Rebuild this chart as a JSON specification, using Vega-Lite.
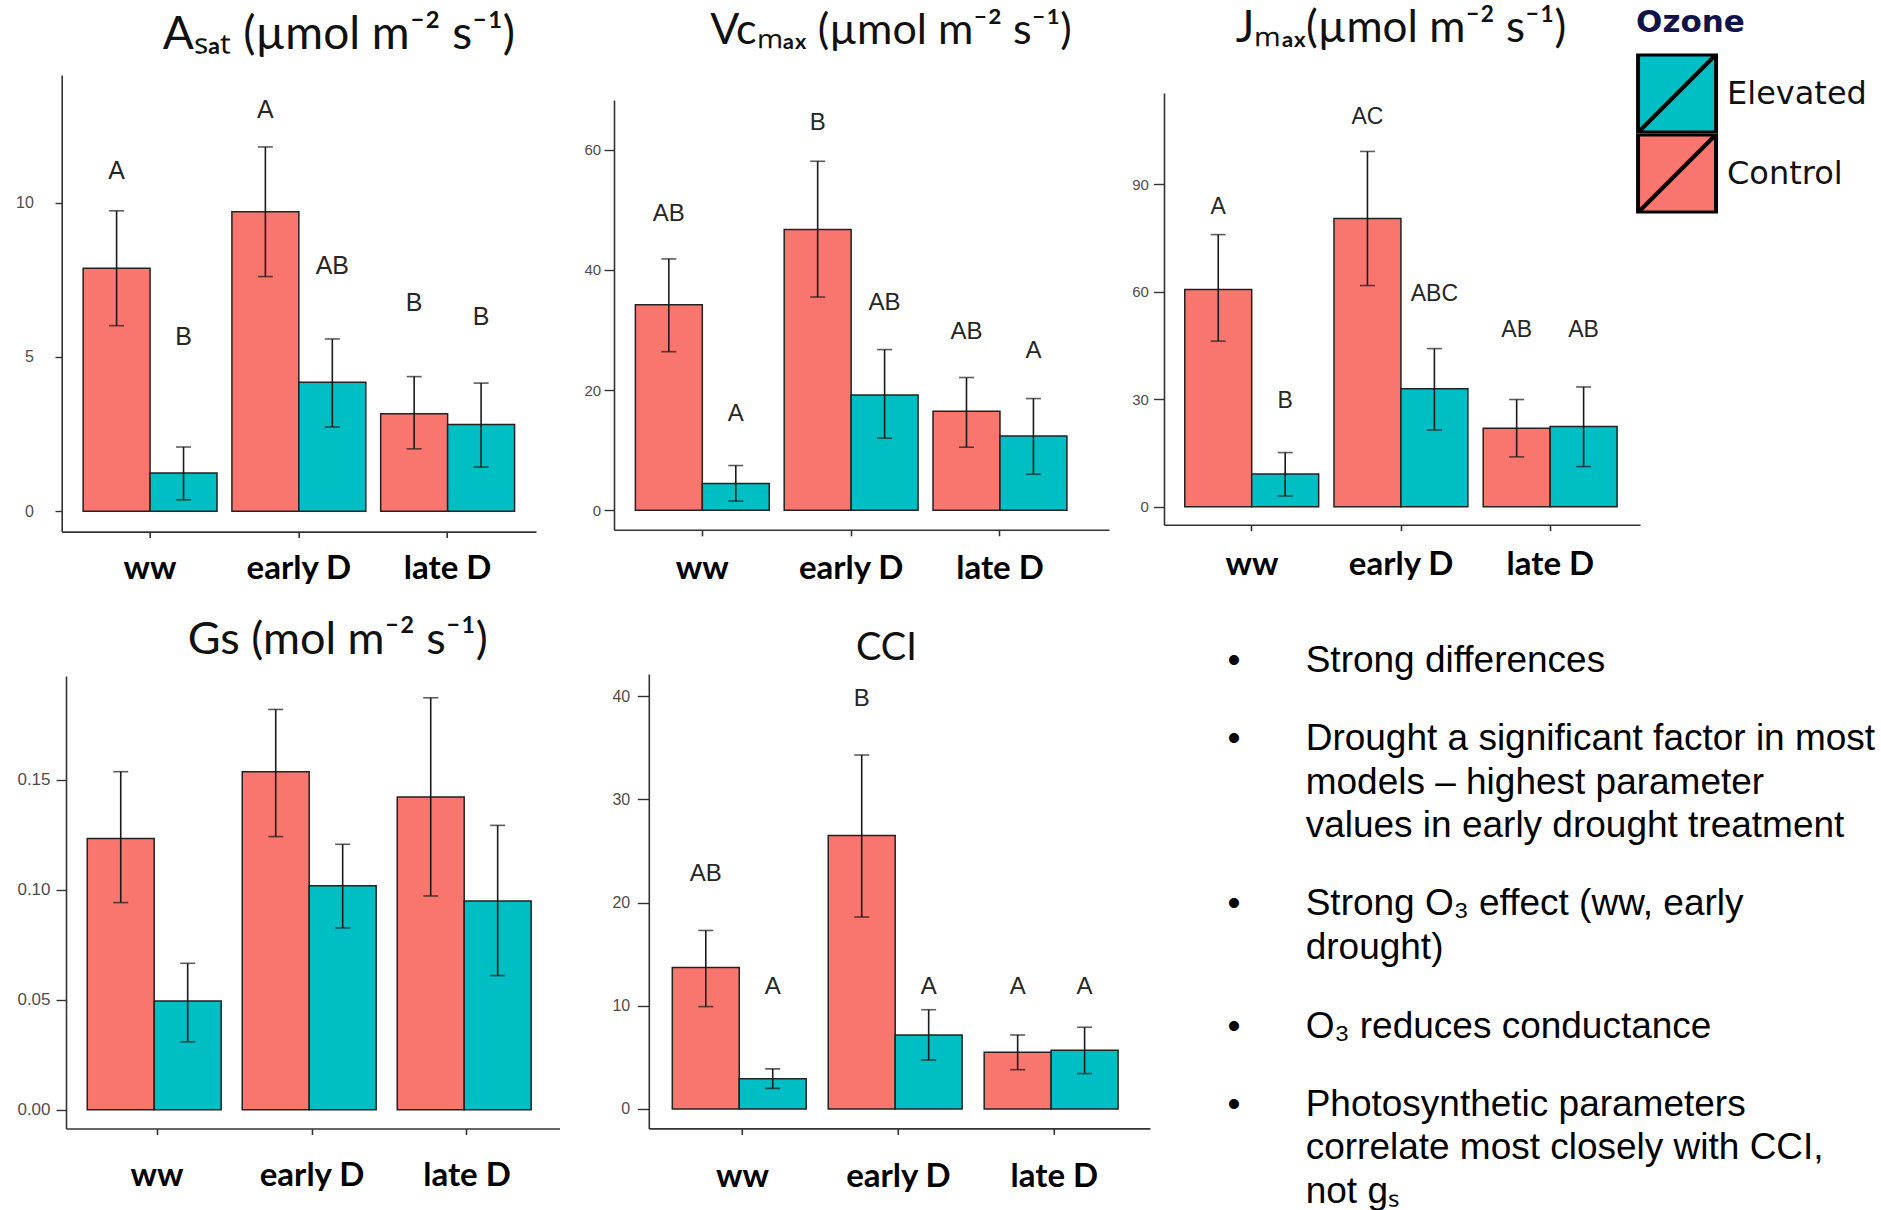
{
  "$schema": "https://vega.github.io/schema/vega-lite/v6.json",
  "background": "white",
  "padding": {"left": 13.7, "top": 0, "right": 0, "bottom": 0},
  "datasets": {
    "bars": [
      {"panel": "Asat", "group": "ww", "ozone": "Control", "mean": 7.87, "lo": 6.01, "hi": 9.73, "letter": "A", "label_y": 11.03},
      {"panel": "Asat", "group": "ww", "ozone": "Elevated", "mean": 1.24, "lo": 0.37, "hi": 2.08, "letter": "B", "label_y": 5.64},
      {"panel": "Asat", "group": "early D", "ozone": "Control", "mean": 9.70, "lo": 7.60, "hi": 11.8, "letter": "A", "label_y": 13.0},
      {"panel": "Asat", "group": "early D", "ozone": "Elevated", "mean": 4.18, "lo": 2.73, "hi": 5.58, "letter": "AB", "label_y": 7.93},
      {"panel": "Asat", "group": "late D", "ozone": "Control", "mean": 3.16, "lo": 2.02, "hi": 4.36, "letter": "B", "label_y": 6.75},
      {"panel": "Asat", "group": "late D", "ozone": "Elevated", "mean": 2.81, "lo": 1.43, "hi": 4.15, "letter": "B", "label_y": 6.28},
      {"panel": "Vcmax", "group": "ww", "ozone": "Control", "mean": 34.2, "lo": 26.4, "hi": 41.85, "letter": "AB", "label_y": 49.4},
      {"panel": "Vcmax", "group": "ww", "ozone": "Elevated", "mean": 4.46, "lo": 1.53, "hi": 7.45, "letter": "A", "label_y": 16.05},
      {"panel": "Vcmax", "group": "early D", "ozone": "Control", "mean": 46.75, "lo": 35.5, "hi": 58.1, "letter": "B", "label_y": 64.5},
      {"panel": "Vcmax", "group": "early D", "ozone": "Elevated", "mean": 19.2, "lo": 12.0, "hi": 26.75, "letter": "AB", "label_y": 34.5},
      {"panel": "Vcmax", "group": "late D", "ozone": "Control", "mean": 16.5, "lo": 10.5, "hi": 22.1, "letter": "AB", "label_y": 29.75},
      {"panel": "Vcmax", "group": "late D", "ozone": "Elevated", "mean": 12.35, "lo": 6.0, "hi": 18.6, "letter": "A", "label_y": 26.55},
      {"panel": "Jmax", "group": "ww", "ozone": "Control", "mean": 60.6, "lo": 46.2, "hi": 75.9, "letter": "A", "label_y": 83.6},
      {"panel": "Jmax", "group": "ww", "ozone": "Elevated", "mean": 9.1, "lo": 3.0, "hi": 15.1, "letter": "B", "label_y": 29.4},
      {"panel": "Jmax", "group": "early D", "ozone": "Control", "mean": 80.4, "lo": 61.7, "hi": 99.1, "letter": "AC", "label_y": 108.7},
      {"panel": "Jmax", "group": "early D", "ozone": "Elevated", "mean": 32.9, "lo": 21.4, "hi": 44.1, "letter": "ABC", "label_y": 59.3},
      {"panel": "Jmax", "group": "late D", "ozone": "Control", "mean": 21.9, "lo": 13.9, "hi": 29.9, "letter": "AB", "label_y": 49.2},
      {"panel": "Jmax", "group": "late D", "ozone": "Elevated", "mean": 22.4, "lo": 11.2, "hi": 33.4, "letter": "AB", "label_y": 49.2},
      {"panel": "Gs", "group": "ww", "ozone": "Control", "mean": 0.1233, "lo": 0.0942, "hi": 0.1537},
      {"panel": "Gs", "group": "ww", "ozone": "Elevated", "mean": 0.0495, "lo": 0.0309, "hi": 0.0666},
      {"panel": "Gs", "group": "early D", "ozone": "Control", "mean": 0.1537, "lo": 0.1242, "hi": 0.182},
      {"panel": "Gs", "group": "early D", "ozone": "Elevated", "mean": 0.1019, "lo": 0.0827, "hi": 0.1207},
      {"panel": "Gs", "group": "late D", "ozone": "Control", "mean": 0.1422, "lo": 0.0972, "hi": 0.1873},
      {"panel": "Gs", "group": "late D", "ozone": "Elevated", "mean": 0.0949, "lo": 0.061, "hi": 0.1293},
      {"panel": "CCI", "group": "ww", "ozone": "Control", "mean": 13.7, "lo": 9.92, "hi": 17.3, "letter": "AB", "label_y": 22.75},
      {"panel": "CCI", "group": "ww", "ozone": "Elevated", "mean": 2.94, "lo": 2.0, "hi": 3.89, "letter": "A", "label_y": 11.8},
      {"panel": "CCI", "group": "early D", "ozone": "Control", "mean": 26.5, "lo": 18.6, "hi": 34.3, "letter": "B", "label_y": 39.7},
      {"panel": "CCI", "group": "early D", "ozone": "Elevated", "mean": 7.17, "lo": 4.75, "hi": 9.62, "letter": "A", "label_y": 11.8},
      {"panel": "CCI", "group": "late D", "ozone": "Control", "mean": 5.5, "lo": 3.81, "hi": 7.17, "letter": "A", "label_y": 11.8},
      {"panel": "CCI", "group": "late D", "ozone": "Elevated", "mean": 5.7, "lo": 3.43, "hi": 7.92, "letter": "A", "label_y": 11.8}
    ],
    "notes": [
      {"item": 1, "line": 1, "text": "Strong differences"},
      {"item": 2, "line": 1, "text": "Drought a significant factor in most"},
      {"item": 2, "line": 2, "text": "models – highest parameter"},
      {"item": 2, "line": 3, "text": "values in early drought treatment"},
      {"item": 3, "line": 1, "text": "Strong O₃ effect (ww, early"},
      {"item": 3, "line": 2, "text": "drought)"},
      {"item": 4, "line": 1, "text": "O₃ reduces conductance"},
      {"item": 5, "line": 1, "text": "Photosynthetic parameters"},
      {"item": 5, "line": 2, "text": "correlate most closely with CCI,"},
      {"item": 5, "line": 3, "text": "not gₛ"}
    ]
  },
  "config": {
    "view": {"stroke": null},
    "font": "Liberation Sans",
    "title": {"font": "Lato", "fontWeight": "normal", "color": "#111111", "baseline": "alphabetic", "anchor": "middle"},
    "axisX": {"domainColor": "#333333", "domainWidth": 1.6, "tickColor": "#333333", "tickWidth": 1.6, "tickSize": 6, "labelFont": "Lato", "labelFontWeight": "bold", "labelFontSize": 33, "labelColor": "#000000", "labelAngle": 0, "labelBaseline": "alphabetic", "grid": false},
    "axisY": {"domainColor": "#333333", "domainWidth": 1.6, "tickColor": "#333333", "tickWidth": 1.4, "labelFont": "Liberation Sans", "labelColor": "#4d4d4d", "grid": false},
    "legend": {
      "orient": "none", "legendX": 1622.35, "legendY": 8,
      "symbolType": "M-1,-1H1V1H-1Z M-1,1L1,-1", "symbolSize": 6084,
      "symbolStrokeColor": "#000000", "symbolStrokeWidth": 4, "symbolOpacity": 1,
      "labelFont": "DejaVu Sans", "labelFontSize": 32, "labelColor": "#111111", "labelOffset": 9, "labelLimit": 300,
      "titleFont": "DejaVu Sans", "titleFontSize": 31, "titleFontWeight": "bold", "titleColor": "#12124a", "titlePadding": 14.5,
      "clipHeight": 80, "rowPadding": 0, "padding": 0
    }
  },
  "spacing": 14,
  "vconcat": [
    {
      "spacing": 0,
      "hconcat": [
        {"width": 1, "height": 1, "data": {"values": []}, "mark": "text", "encoding": {}},
        {
          "spacing": 47.3,
          "hconcat": [
            {
              "bounds": "flush", "spacing": 0,
              "vconcat": [
                {"width": 474.3, "height": 74.6, "data": {"values": []}, "mark": "text", "encoding": {}},
                {
                  "width": 474.3, "height": 456.6,
                  "title": {"text": "Aₛₐₜ (µmol m⁻² s⁻¹)", "fontSize": 46, "dx": 40, "offset": 15.7},
                  "data": {"name": "bars"},
                  "transform": [{"filter": "datum.panel === 'Asat'"}],
                  "encoding": {
                    "x": {"field": "group", "type": "nominal", "sort": ["ww", "early D", "late D"], "title": null,
                          "scale": {"paddingInner": 0.1, "paddingOuter": 0.144, "align": 0.5}, "axis": {"labelPadding": 41}},
                    "xOffset": {"field": "ozone", "type": "nominal", "scale": {"domain": ["Control", "Elevated"], "paddingInner": 0, "paddingOuter": 0}}
                  },
                  "layer": [
                    {"mark": {"type": "bar", "stroke": "#222222", "strokeWidth": 1.5},
                     "encoding": {
                       "y": {"field": "mean", "type": "quantitative", "title": null, "scale": {"domain": [-0.66, 14.13], "nice": false, "zero": false},
                             "axis": {"values": [0, 5, 10], "tickSize": 6.7, "labelPadding": 21.7, "labelFontSize": 16}},
                       "y2": {"datum": 0},
                       "color": {"field": "ozone", "type": "nominal", "title": "Ozone", "scale": {"domain": ["Elevated", "Control"], "range": ["#00BFC4", "#F8766D"]}}
                     }},
                    {"mark": {"type": "rule", "color": "#1a1a1a", "strokeWidth": 1.6},
                     "encoding": {"y": {"field": "lo", "type": "quantitative", "title": null}, "y2": {"field": "hi"}}},
                    {"mark": {"type": "tick", "color": "#1a1a1a", "size": 15, "thickness": 1.6},
                     "encoding": {"y": {"field": "lo", "type": "quantitative", "title": null}}},
                    {"mark": {"type": "tick", "color": "#1a1a1a", "size": 15, "thickness": 1.6},
                     "encoding": {"y": {"field": "hi", "type": "quantitative", "title": null}}},
                    {"mark": {"type": "text", "fontSize": 25, "font": "Liberation Sans", "color": "#262626", "baseline": "middle"},
                     "encoding": {"y": {"field": "label_y", "type": "quantitative", "title": null}, "text": {"field": "letter"}}}
                  ]
                }
              ]
            },
            {
              "spacing": 22,
              "hconcat": [
                {
                  "bounds": "flush", "spacing": 0,
                  "vconcat": [
                    {"width": 495, "height": 99.5, "data": {"values": []}, "mark": "text", "encoding": {}},
                    {
                      "width": 495, "height": 429.8,
                      "title": {"text": "Vcₘₐₓ (µmol m⁻² s⁻¹)", "fontSize": 43, "dx": 29.5, "offset": 46.9},
                      "data": {"name": "bars"},
                      "transform": [{"filter": "datum.panel === 'Vcmax'"}],
                      "encoding": {
                        "x": {"field": "group", "type": "nominal", "sort": ["ww", "early D", "late D"], "title": null,
                              "scale": {"paddingInner": 0.1, "paddingOuter": 0.213, "align": 0.337}, "axis": {"labelPadding": 42.6}},
                        "xOffset": {"field": "ozone", "type": "nominal", "scale": {"domain": ["Control", "Elevated"], "paddingInner": 0, "paddingOuter": 0}}
                      },
                      "layer": [
                        {"mark": {"type": "bar", "stroke": "#222222", "strokeWidth": 1.5},
                         "encoding": {
                           "y": {"field": "mean", "type": "quantitative", "title": null, "scale": {"domain": [-3.25, 68.3], "nice": false, "zero": false},
                                 "axis": {"values": [0, 20, 40, 60], "tickSize": 10, "labelPadding": 3.3, "labelFontSize": 15}},
                           "y2": {"datum": 0},
                           "color": {"field": "ozone", "type": "nominal", "title": "Ozone", "scale": {"domain": ["Elevated", "Control"], "range": ["#00BFC4", "#F8766D"]}}
                         }},
                        {"mark": {"type": "rule", "color": "#1a1a1a", "strokeWidth": 1.6},
                         "encoding": {"y": {"field": "lo", "type": "quantitative", "title": null}, "y2": {"field": "hi"}}},
                        {"mark": {"type": "tick", "color": "#1a1a1a", "size": 15, "thickness": 1.6},
                         "encoding": {"y": {"field": "lo", "type": "quantitative", "title": null}}},
                        {"mark": {"type": "tick", "color": "#1a1a1a", "size": 15, "thickness": 1.6},
                         "encoding": {"y": {"field": "hi", "type": "quantitative", "title": null}}},
                        {"mark": {"type": "text", "fontSize": 24, "font": "Liberation Sans", "color": "#262626", "baseline": "middle"},
                         "encoding": {"y": {"field": "label_y", "type": "quantitative", "title": null}, "text": {"field": "letter"}}}
                      ]
                    }
                  ]
                },
                {
                  "bounds": "flush", "spacing": 0,
                  "vconcat": [
                    {"width": 476, "height": 92.6, "data": {"values": []}, "mark": "text", "encoding": {}},
                    {
                      "width": 476, "height": 431.7,
                      "title": {"text": "Jₘₐₓ(µmol m⁻² s⁻¹)", "fontSize": 44, "dx": -1, "offset": 42},
                      "data": {"name": "bars"},
                      "transform": [{"filter": "datum.panel === 'Jmax'"}],
                      "encoding": {
                        "x": {"field": "group", "type": "nominal", "sort": ["ww", "early D", "late D"], "title": null,
                              "scale": {"paddingInner": 0.1, "paddingOuter": 0.145, "align": 0.48}, "axis": {"labelPadding": 43.7}},
                        "xOffset": {"field": "ozone", "type": "nominal", "scale": {"domain": ["Control", "Elevated"], "paddingInner": 0, "paddingOuter": 0}}
                      },
                      "layer": [
                        {"mark": {"type": "bar", "stroke": "#222222", "strokeWidth": 1.5},
                         "encoding": {
                           "y": {"field": "mean", "type": "quantitative", "title": null, "scale": {"domain": [-5.02, 115.4], "nice": false, "zero": false},
                                 "axis": {"values": [0, 30, 60, 90], "tickSize": 10.6, "labelPadding": 5, "labelFontSize": 15}},
                           "y2": {"datum": 0},
                           "color": {"field": "ozone", "type": "nominal", "title": "Ozone", "scale": {"domain": ["Elevated", "Control"], "range": ["#00BFC4", "#F8766D"]}}
                         }},
                        {"mark": {"type": "rule", "color": "#1a1a1a", "strokeWidth": 1.6},
                         "encoding": {"y": {"field": "lo", "type": "quantitative", "title": null}, "y2": {"field": "hi"}}},
                        {"mark": {"type": "tick", "color": "#1a1a1a", "size": 15, "thickness": 1.6},
                         "encoding": {"y": {"field": "lo", "type": "quantitative", "title": null}}},
                        {"mark": {"type": "tick", "color": "#1a1a1a", "size": 15, "thickness": 1.6},
                         "encoding": {"y": {"field": "hi", "type": "quantitative", "title": null}}},
                        {"mark": {"type": "text", "fontSize": 23, "font": "Liberation Sans", "color": "#262626", "baseline": "middle"},
                         "encoding": {"y": {"field": "label_y", "type": "quantitative", "title": null}, "text": {"field": "letter"}}}
                      ]
                    }
                  ]
                }
              ]
            }
          ]
        }
      ]
    },
    {
      "spacing": 1.3,
      "hconcat": [
        {"width": 1, "height": 1, "data": {"values": []}, "mark": "text", "encoding": {}},
        {
          "spacing": 51.8,
          "hconcat": [
            {
              "bounds": "flush", "spacing": 0,
              "vconcat": [
                {"width": 493.5, "height": 75.9, "data": {"values": []}, "mark": "text", "encoding": {}},
                {
                  "width": 493.5, "height": 452.5,
                  "title": {"text": "Gs (mol m⁻² s⁻¹)", "fontSize": 45, "dx": 25, "offset": 12.8},
                  "data": {"name": "bars"},
                  "transform": [{"filter": "datum.panel === 'Gs'"}],
                  "encoding": {
                    "x": {"field": "group", "type": "nominal", "sort": ["ww", "early D", "late D"], "title": null,
                          "scale": {"paddingInner": 0.1, "paddingOuter": 0.142, "align": 0.483}, "axis": {"labelPadding": 51.2}},
                    "xOffset": {"field": "ozone", "type": "nominal", "scale": {"domain": ["Control", "Elevated"], "paddingInner": 0, "paddingOuter": 0}}
                  },
                  "layer": [
                    {"mark": {"type": "bar", "stroke": "#222222", "strokeWidth": 1.5},
                     "encoding": {
                       "y": {"field": "mean", "type": "quantitative", "title": null, "scale": {"domain": [-0.0085, 0.1972], "nice": false, "zero": false},
                             "axis": {"values": [0, 0.05, 0.1, 0.15], "format": ".2f", "tickSize": 10, "labelPadding": 6, "labelFontSize": 17}},
                       "y2": {"datum": 0},
                       "color": {"field": "ozone", "type": "nominal", "title": "Ozone", "scale": {"domain": ["Elevated", "Control"], "range": ["#00BFC4", "#F8766D"]}}
                     }},
                    {"mark": {"type": "rule", "color": "#1a1a1a", "strokeWidth": 1.6},
                     "encoding": {"y": {"field": "lo", "type": "quantitative", "title": null}, "y2": {"field": "hi"}}},
                    {"mark": {"type": "tick", "color": "#1a1a1a", "size": 15, "thickness": 1.6},
                     "encoding": {"y": {"field": "lo", "type": "quantitative", "title": null}}},
                    {"mark": {"type": "tick", "color": "#1a1a1a", "size": 15, "thickness": 1.6},
                     "encoding": {"y": {"field": "hi", "type": "quantitative", "title": null}}}
                  ]
                }
              ]
            },
            {
              "spacing": 76.2,
              "hconcat": [
                {
                  "bounds": "flush", "spacing": 0,
                  "vconcat": [
                    {"width": 501.2, "height": 74, "data": {"values": []}, "mark": "text", "encoding": {}},
                    {
                      "width": 501.2, "height": 454.4,
                      "title": {"text": "CCI", "fontSize": 38, "dx": -13, "offset": 6},
                      "data": {"name": "bars"},
                      "transform": [{"filter": "datum.panel === 'CCI'"}],
                      "encoding": {
                        "x": {"field": "group", "type": "nominal", "sort": ["ww", "early D", "late D"], "title": null,
                              "scale": {"paddingInner": 0.1, "paddingOuter": 0.157, "align": 0.48}, "axis": {"labelPadding": 52.4}},
                        "xOffset": {"field": "ozone", "type": "nominal", "scale": {"domain": ["Control", "Elevated"], "paddingInner": 0, "paddingOuter": 0}}
                      },
                      "layer": [
                        {"mark": {"type": "bar", "stroke": "#222222", "strokeWidth": 1.5},
                         "encoding": {
                           "y": {"field": "mean", "type": "quantitative", "title": null, "scale": {"domain": [-1.88, 42.15], "nice": false, "zero": false},
                                 "axis": {"values": [0, 10, 20, 30, 40], "tickSize": 11.5, "labelPadding": 7.6, "labelFontSize": 16}},
                           "y2": {"datum": 0},
                           "color": {"field": "ozone", "type": "nominal", "title": "Ozone", "scale": {"domain": ["Elevated", "Control"], "range": ["#00BFC4", "#F8766D"]}}
                         }},
                        {"mark": {"type": "rule", "color": "#1a1a1a", "strokeWidth": 1.6},
                         "encoding": {"y": {"field": "lo", "type": "quantitative", "title": null}, "y2": {"field": "hi"}}},
                        {"mark": {"type": "tick", "color": "#1a1a1a", "size": 15, "thickness": 1.6},
                         "encoding": {"y": {"field": "lo", "type": "quantitative", "title": null}}},
                        {"mark": {"type": "tick", "color": "#1a1a1a", "size": 15, "thickness": 1.6},
                         "encoding": {"y": {"field": "hi", "type": "quantitative", "title": null}}},
                        {"mark": {"type": "text", "fontSize": 24, "font": "Liberation Sans", "color": "#262626", "baseline": "middle"},
                         "encoding": {"y": {"field": "label_y", "type": "quantitative", "title": null}, "text": {"field": "letter"}}}
                      ]
                    }
                  ]
                },
                {
                  "bounds": "flush",
                  "spacing": 34.2,
                  "vconcat": [
                    {"width": 71.7, "height": 4.3, "data": {"values": []}, "mark": "text", "encoding": {}},
                    {
                      "width": 71.7, "height": 43.6,
                      "data": {"name": "notes"},
                      "transform": [{"filter": "datum.item === 1"}],
                      "encoding": {"y": {"field": "line", "type": "ordinal", "scale": {"type": "point", "padding": 0.5}, "axis": null}},
                      "layer": [
                        {"mark": {"type": "text", "align": "left", "baseline": "middle", "fontSize": 37, "font": "Liberation Sans", "color": "#000000"},
                         "encoding": {"x": {"datum": "body", "type": "nominal", "scale": {"type": "point", "domain": ["bullet", "body"], "padding": 0}, "axis": null}, "text": {"field": "text"}}},
                        {"transform": [{"filter": "datum.line === 1"}],
                         "mark": {"type": "text", "align": "center", "baseline": "middle", "fontSize": 37, "font": "Liberation Sans", "color": "#000000"},
                         "encoding": {"x": {"datum": "bullet", "type": "nominal"}, "text": {"value": "•"}}}
                      ]
                    },
                    {
                      "width": 71.7, "height": 130.8,
                      "data": {"name": "notes"},
                      "transform": [{"filter": "datum.item === 2"}],
                      "encoding": {"y": {"field": "line", "type": "ordinal", "scale": {"type": "point", "padding": 0.5}, "axis": null}},
                      "layer": [
                        {"mark": {"type": "text", "align": "left", "baseline": "middle", "fontSize": 37, "font": "Liberation Sans", "color": "#000000"},
                         "encoding": {"x": {"datum": "body", "type": "nominal", "scale": {"type": "point", "domain": ["bullet", "body"], "padding": 0}, "axis": null}, "text": {"field": "text"}}},
                        {"transform": [{"filter": "datum.line === 1"}],
                         "mark": {"type": "text", "align": "center", "baseline": "middle", "fontSize": 37, "font": "Liberation Sans", "color": "#000000"},
                         "encoding": {"x": {"datum": "bullet", "type": "nominal"}, "text": {"value": "•"}}}
                      ]
                    },
                    {
                      "width": 71.7, "height": 87.2,
                      "data": {"name": "notes"},
                      "transform": [{"filter": "datum.item === 3"}],
                      "encoding": {"y": {"field": "line", "type": "ordinal", "scale": {"type": "point", "padding": 0.5}, "axis": null}},
                      "layer": [
                        {"mark": {"type": "text", "align": "left", "baseline": "middle", "fontSize": 37, "font": "Liberation Sans", "color": "#000000"},
                         "encoding": {"x": {"datum": "body", "type": "nominal", "scale": {"type": "point", "domain": ["bullet", "body"], "padding": 0}, "axis": null}, "text": {"field": "text"}}},
                        {"transform": [{"filter": "datum.line === 1"}],
                         "mark": {"type": "text", "align": "center", "baseline": "middle", "fontSize": 37, "font": "Liberation Sans", "color": "#000000"},
                         "encoding": {"x": {"datum": "bullet", "type": "nominal"}, "text": {"value": "•"}}}
                      ]
                    },
                    {
                      "width": 71.7, "height": 43.6,
                      "data": {"name": "notes"},
                      "transform": [{"filter": "datum.item === 4"}],
                      "encoding": {"y": {"field": "line", "type": "ordinal", "scale": {"type": "point", "padding": 0.5}, "axis": null}},
                      "layer": [
                        {"mark": {"type": "text", "align": "left", "baseline": "middle", "fontSize": 37, "font": "Liberation Sans", "color": "#000000"},
                         "encoding": {"x": {"datum": "body", "type": "nominal", "scale": {"type": "point", "domain": ["bullet", "body"], "padding": 0}, "axis": null}, "text": {"field": "text"}}},
                        {"transform": [{"filter": "datum.line === 1"}],
                         "mark": {"type": "text", "align": "center", "baseline": "middle", "fontSize": 37, "font": "Liberation Sans", "color": "#000000"},
                         "encoding": {"x": {"datum": "bullet", "type": "nominal"}, "text": {"value": "•"}}}
                      ]
                    },
                    {
                      "width": 71.7, "height": 130.8,
                      "data": {"name": "notes"},
                      "transform": [{"filter": "datum.item === 5"}],
                      "encoding": {"y": {"field": "line", "type": "ordinal", "scale": {"type": "point", "padding": 0.5}, "axis": null}},
                      "layer": [
                        {"mark": {"type": "text", "align": "left", "baseline": "middle", "fontSize": 37, "font": "Liberation Sans", "color": "#000000"},
                         "encoding": {"x": {"datum": "body", "type": "nominal", "scale": {"type": "point", "domain": ["bullet", "body"], "padding": 0}, "axis": null}, "text": {"field": "text"}}},
                        {"transform": [{"filter": "datum.line === 1"}],
                         "mark": {"type": "text", "align": "center", "baseline": "middle", "fontSize": 37, "font": "Liberation Sans", "color": "#000000"},
                         "encoding": {"x": {"datum": "bullet", "type": "nominal"}, "text": {"value": "•"}}}
                      ]
                    }
                  ]
                }
              ]
            }
          ]
        }
      ]
    }
  ]
}
